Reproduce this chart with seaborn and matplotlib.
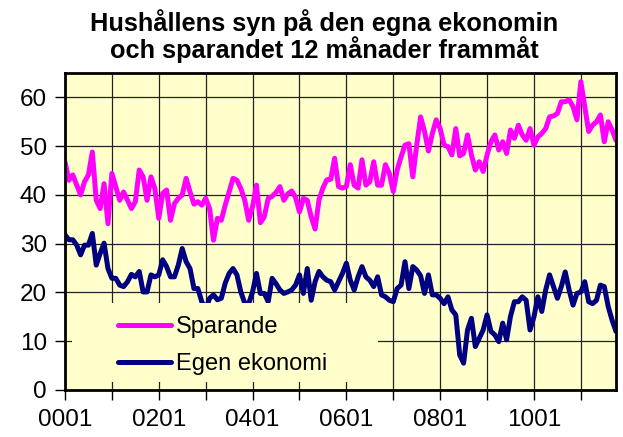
import numpy as np
import pandas as pd
import seaborn as sns
import matplotlib.pyplot as plt
from matplotlib.patches import Rectangle

# Monthly survey values, jan 2000 - okt 2011
sparande = [46.8, 43.0, 44.1, 42.0, 40.0, 42.7, 44.1, 48.8, 38.9, 37.2, 42.3, 34.1,
            44.4, 41.7, 38.9, 40.6, 38.9, 37.2, 38.6, 45.1, 43.7, 38.9, 43.7, 41.3,
            35.2, 40.3, 41.0, 34.8, 38.2, 39.3, 40.0, 43.4, 40.6, 38.1, 38.6, 37.9,
            39.3, 37.2, 30.7, 35.2, 34.8, 37.9, 40.6, 43.4, 43.0, 41.3, 38.9, 34.8,
            37.6, 42.0, 34.3, 35.5, 39.3, 39.7, 40.5, 41.7, 38.9, 40.2, 40.8, 39.5,
            36.5, 39.3, 38.9, 35.5, 33.0, 39.0, 41.4, 43.1, 43.2, 47.5, 41.7, 41.4,
            41.7, 46.2, 42.0, 41.4, 47.2, 42.0, 42.7, 46.8, 42.0, 42.0, 46.2, 44.4,
            40.7, 45.1, 47.8, 50.2, 50.5, 43.7, 50.2, 56.0, 53.0, 49.0, 52.6, 55.4,
            53.6, 50.2, 49.9, 48.2, 53.6, 48.0, 48.5, 52.3, 48.2, 45.1, 46.8, 44.8,
            48.2, 50.9, 52.3, 49.2, 50.9, 48.5, 53.3, 51.6, 54.3, 52.3, 51.2, 53.6,
            50.2, 51.9, 52.6, 53.6, 56.0, 56.2, 56.7, 59.1, 59.1, 59.5, 58.1, 55.4,
            63.2, 58.1, 53.0, 54.3, 55.0, 56.4, 50.9, 55.0, 53.3, 51.2]

egen_ekonomi = [31.8, 30.8, 30.8, 29.7, 27.7, 29.7, 29.7, 32.1, 25.6, 28.0, 30.1, 24.9,
                22.9, 22.9, 21.5, 21.2, 22.2, 23.7, 23.2, 24.3, 20.1, 20.1, 23.6, 23.2,
                23.6, 26.7, 25.3, 23.2, 23.2, 25.6, 29.0, 26.3, 24.9, 20.8, 20.8, 18.1,
                16.5, 18.8, 19.5, 18.5, 18.8, 21.9, 23.9, 24.9, 23.6, 20.1, 17.8, 17.7,
                20.1, 23.9, 19.8, 19.8, 18.1, 22.9, 21.8, 20.5, 19.8, 20.1, 20.5, 21.5,
                23.6, 19.8, 24.9, 18.4, 22.2, 24.3, 23.2, 22.5, 22.2, 20.5, 22.2, 23.9,
                26.0, 22.5, 20.5, 23.2, 25.3, 23.2, 22.5, 21.2, 23.2, 19.5, 19.1, 18.4,
                18.1, 20.8, 21.5, 26.3, 20.8, 25.3, 24.6, 23.4, 19.8, 23.6, 19.5, 19.5,
                18.8, 17.7, 19.1, 16.4, 15.4, 7.2, 5.5, 12.3, 14.7, 8.9, 10.6, 12.3,
                15.4, 12.0, 11.3, 9.9, 13.7, 10.3, 15.1, 18.1, 18.1, 19.1, 18.4, 12.3,
                15.0, 19.1, 16.1, 20.5, 23.6, 21.2, 18.8, 21.2, 24.2, 20.5, 17.4, 19.8,
                20.1, 22.2, 18.1, 17.7, 18.4, 21.5, 21.2, 17.1, 14.3, 12.0]

series_names = ["Sparande", "Egen ekonomi"]
tick_labels = ["0001", "", "0201", "", "0401", "", "0601", "", "0801", "", "1001", ""]

bg = "#FFFFCC"
colors = {"Sparande": "#FF00FF", "Egen ekonomi": "#000080"}

n = len(sparande)
df = pd.DataFrame({
    "month": list(range(n)) * 2,
    "value": sparande + egen_ekonomi,
    "serie": [series_names[0]] * n + [series_names[1]] * n,
})

sns.set_style("white")
plt.rcParams["font.family"] = ["Liberation Sans", "DejaVu Sans"]
plt.rcParams["text.color"] = "black"
plt.rcParams["xtick.color"] = "black"
plt.rcParams["ytick.color"] = "black"

fig = plt.figure(figsize=(6.23, 4.37), dpi=100)
ax = fig.add_axes([0.1043, 0.1076, 0.8845, 0.7254])
ax.set_facecolor(bg)

sns.lineplot(data=df, x="month", y="value", hue="serie", hue_order=series_names,
             palette=colors, linewidth=3.6, ax=ax, legend=False, zorder=2)

ax.set_xlim(0, n - 1)
ax.set_ylim(0, 65)
ax.set_yticks(range(0, 61, 10))
ax.set_xticks(range(0, n, 12))
ax.set_xticklabels(tick_labels[:len(range(0, n, 12))])
ax.set_xlabel("")
ax.set_ylabel("")
ax.set_axisbelow(True)
ax.grid(True, color="#222222", linewidth=0.9)
ax.tick_params(axis="both", labelsize=17.5, direction="out", length=7, width=1,
               color="black", labelcolor="black", left=True, bottom=True)
ax.tick_params(axis="y", pad=6)
ax.tick_params(axis="x", pad=7)
for sp in ax.spines.values():
    sp.set_color("black")
    sp.set_linewidth(2)

# the legend box hides lines and grid behind it
ax.add_patch(Rectangle((0.0127, 0.025), 0.555, 0.25, transform=ax.transAxes,
                       facecolor=bg, edgecolor="none", zorder=3))
leg = ax.legend(ax.lines[:2], series_names, loc="center left", bbox_to_anchor=(0.096, 0.14),
                frameon=False, fontsize=17, handlelength=2.25, handletextpad=0.2,
                labelspacing=0.62, borderpad=0, borderaxespad=0)
for t in leg.get_texts():
    t.set_color("black")

fig.text(0.52, 0.978, "Hushållens syn på den egna ekonomin\noch sparandet 12 månader frammåt",
         ha="center", va="top", fontsize=18.3, fontweight="bold", linespacing=0.98,
         color="black")

fig.savefig("out.png", dpi=100, facecolor="white")
